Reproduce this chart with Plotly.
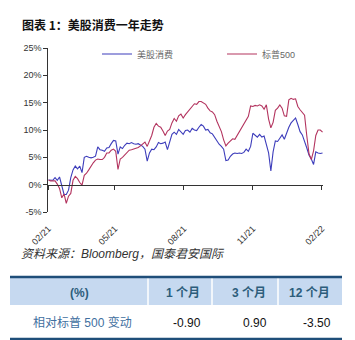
import pandas as pd
import plotly.graph_objects as go

# ---------------- data ----------------
dates = pd.date_range("2021-02-01", periods=123, freq="3D")
consumer = [
    0.85, 0.85, 0.8, 1.3, 0.8, 1.4, -0.3, -1.8, -1.8, -1.0,
    1.3, 2.7, 3.4, 2.9, 3.4, 2.2, 5.0, 5.2, 5.0, 4.9,
    5.0, 5.2, 6.9, 6.4, 6.3, 6.1, 6.7, 6.8, 7.5, 8.1,
    8.0, 5.6, 6.9, 6.6, 7.2, 7.6, 7.5, 7.7, 7.5, 7.4,
    7.5, 7.2, 7.0, 6.5, 4.3, 5.8, 6.5, 6.4, 6.9, 7.7,
    7.5, 7.6, 7.8, 6.4, 7.6, 9.2, 9.6, 9.2, 10.1, 9.7,
    9.2, 9.9, 10.0, 9.6, 10.3, 10.0, 9.9, 10.5, 11.0, 10.7,
    10.0, 10.1, 9.5, 9.3, 8.6, 8.1, 7.4, 7.0, 6.5, 4.4,
    4.5, 5.2, 5.6, 5.8, 5.7, 5.8, 5.7, 5.9, 6.5, 6.1,
    7.0, 9.4, 9.1, 8.7, 9.2, 8.7, 8.9, 7.5, 5.8, 2.5,
    6.0, 8.0, 7.9, 8.5, 9.1, 8.3, 9.6, 10.5, 11.3, 11.7,
    12.2, 11.0, 9.7, 9.1, 8.0, 6.7, 5.4, 4.7, 3.7, 6.0,
    5.8, 5.7, 5.8,
]
sp500 = [
    0.85, 0.7, 0.7, 0.7, 0.1, -0.7, -2.4, -1.7, -3.4, -2.1,
    -1.6, 0.8, 1.5, 1.1, 0.4, -0.1, 1.7, 2.1, 2.7, 3.4,
    4.0, 4.5, 4.7, 4.6, 4.6, 5.0, 5.8, 5.8, 6.3, 6.5,
    6.1, 2.8, 4.7, 5.0, 5.5, 5.9, 6.3, 6.4, 6.5, 6.7,
    6.8, 7.1, 7.4, 7.8, 7.0, 8.0, 9.0, 10.5, 11.2, 10.7,
    10.5, 9.8, 9.0, 9.8, 10.1, 11.3, 12.1, 11.6, 12.6, 12.9,
    12.2, 12.8, 13.3, 13.8, 14.4, 14.8, 14.7, 15.2, 15.2, 15.0,
    14.7, 14.0, 13.5, 13.3, 12.8, 11.6, 10.8, 9.7, 8.2, 7.1,
    7.6, 8.0, 8.4, 8.3, 9.0, 9.7, 10.3, 11.0, 11.6, 12.5,
    14.4, 14.3, 14.5, 14.4, 14.6, 14.4, 13.8, 14.6, 12.0, 10.4,
    11.4, 13.6, 14.0, 14.6, 14.0, 12.6, 12.5, 15.5, 15.8, 15.6,
    15.7, 14.3, 13.7, 13.1, 12.7, 8.9, 5.6, 4.6, 6.2, 9.0,
    10.0, 10.0, 9.6,
]
series_names = ["美股消费", "标普500"]
x_tick_dates = ["2021-02-01", "2021-05-01", "2021-08-01", "2021-11-01", "2022-02-01"]
x_tick_labels = ["02/21", "05/21", "08/21", "11/21", "02/22"]
y_ticks = [-5, 0, 5, 10, 15, 20, 25]
y_tick_labels = ["-5%", "0%", "5%", "10%", "15%", "20%", "25%"]

title_text = "图表 1：美股消费一年走势"
source_text = "资料来源：Bloomberg，国泰君安国际"
table_header = ["(%)", "1 个月", "3 个月", "12 个月"]
table_row = ["相对标普 500 变动", "-0.90", "0.90", "-3.50"]

# ---------------- layout helpers ----------------
W, H = 355, 340
def px(x):
    return x / W
def py(y):
    return 1 - y / H

BLUE = "#3d3dbb"
RED = "#b3345f"
AXIS = "#333333"
FONT = "Liberation Sans, Arial, Noto Sans CJK SC, sans-serif"

ydom = [py(212), py(48)]
xdom = [px(48.3), px(323.3)]
zero_pos = ydom[0] + (0 - (-5)) / 30 * (ydom[1] - ydom[0])

fig = go.Figure()
fig.add_trace(go.Scatter(x=dates, y=consumer, mode="lines", name=series_names[0],
                         line=dict(color=BLUE, width=1.1)))
fig.add_trace(go.Scatter(x=dates, y=sp500, mode="lines", name=series_names[1],
                         line=dict(color=RED, width=1.1)))
fig.add_trace(go.Scatter(x=[], y=[], xaxis="x2", yaxis="y", showlegend=False,
                         hoverinfo="skip"))

xrange = ["2021-02-01", "2022-02-03"]
fig.update_layout(
    width=W, height=H, autosize=False,
    margin=dict(l=0, r=0, t=0, b=0, pad=0, autoexpand=False),
    paper_bgcolor="white", plot_bgcolor="white",
    font=dict(family=FONT, size=9, color=AXIS),
    xaxis=dict(domain=xdom, range=xrange, type="date", automargin=False,
               tickmode="array", tickvals=x_tick_dates, ticktext=x_tick_labels,
               tickangle=-45, ticks="outside", ticklen=7,
               tickcolor="rgba(0,0,0,0)", showline=False, showgrid=False,
               zeroline=False, tickfont=dict(size=9, color=AXIS)),
    xaxis2=dict(domain=xdom, range=xrange, type="date", overlaying="x",
                anchor="free", position=zero_pos, automargin=False,
                tickmode="array", tickvals=x_tick_dates, ticks="outside", ticklen=4,
                tickcolor=AXIS, tickwidth=1, showticklabels=False,
                showline=True, linecolor=AXIS, linewidth=1, showgrid=False,
                zeroline=False),
    yaxis=dict(domain=ydom, range=[-5, 25], automargin=False,
               tickmode="array", tickvals=y_ticks, ticktext=y_tick_labels,
               ticks="outside", ticklen=4, tickcolor=AXIS,
               showline=True, linecolor=AXIS, linewidth=1, showgrid=False,
               zeroline=False, tickfont=dict(size=9, color=AXIS)),
    legend=dict(orientation="h", x=px(97), y=py(54), xanchor="left",
                yanchor="middle", bgcolor="rgba(0,0,0,0)",
                font=dict(size=9, color="#666666"),
                entrywidth=80, entrywidthmode="pixels", itemwidth=30),
    showlegend=True,
)

annotations = []
shapes = []
# title
annotations.append(dict(text="<b>" + title_text + "</b>", x=px(20), y=py(25),
                        xref="paper", yref="paper", xanchor="left",
                        yanchor="middle", showarrow=False,
                        font=dict(family="Noto Sans CJK SC, Liberation Sans", size=12,
                                  color="#111111")))
# source
annotations.append(dict(text="<i>" + source_text + "</i>", x=px(19), y=py(254),
                        xref="paper", yref="paper", xanchor="left",
                        yanchor="middle", showarrow=False,
                        font=dict(family=FONT, size=12, color="#333333")))

# table
col_edges = [10, 148, 212, 278, 342]
hdr_top, hdr_bot, row_bot = 278, 305, 338
shapes.append(dict(type="rect", xref="paper", yref="paper",
                   x0=px(col_edges[0]), x1=px(col_edges[-1]),
                   y0=py(hdr_bot), y1=py(hdr_top),
                   fillcolor="#c6d9f0", line=dict(width=0), layer="below"))
for e in col_edges[1:-1]:
    shapes.append(dict(type="line", xref="paper", yref="paper",
                       x0=px(e), x1=px(e), y0=py(hdr_bot), y1=py(hdr_top),
                       line=dict(color="white", width=1.5)))
for yy in (277, 339):
    shapes.append(dict(type="line", xref="paper", yref="paper",
                       x0=px(col_edges[0]), x1=px(col_edges[-1]),
                       y0=py(yy), y1=py(yy),
                       line=dict(color="#1f4e79", width=2.5)))

HDR_COLOR = "#2d5d7b"
for i, t in enumerate(table_header):
    if i == 0:
        xx, anc = (col_edges[0] + col_edges[1]) / 2, "center"
    else:
        xx, anc = col_edges[i + 1] - 10, "right"
    annotations.append(dict(text="<b>" + t + "</b>", x=px(xx), y=py(292.5),
                            xref="paper", yref="paper", xanchor=anc,
                            yanchor="middle", showarrow=False,
                            font=dict(family=FONT, size=12, color=HDR_COLOR)))
for i, t in enumerate(table_row):
    if i == 0:
        xx, anc, col = (col_edges[0] + col_edges[1]) / 2 + 3, "center", "#3f6fa0"
    else:
        xx, anc, col = col_edges[i + 1] - 9, "right", "#111111"
    annotations.append(dict(text=t, x=px(xx), y=py(322.5),
                            xref="paper", yref="paper", xanchor=anc,
                            yanchor="middle", showarrow=False,
                            font=dict(family=FONT, size=12, color=col)))

fig.update_layout(annotations=annotations, shapes=shapes)
fig.write_html("out.html")
